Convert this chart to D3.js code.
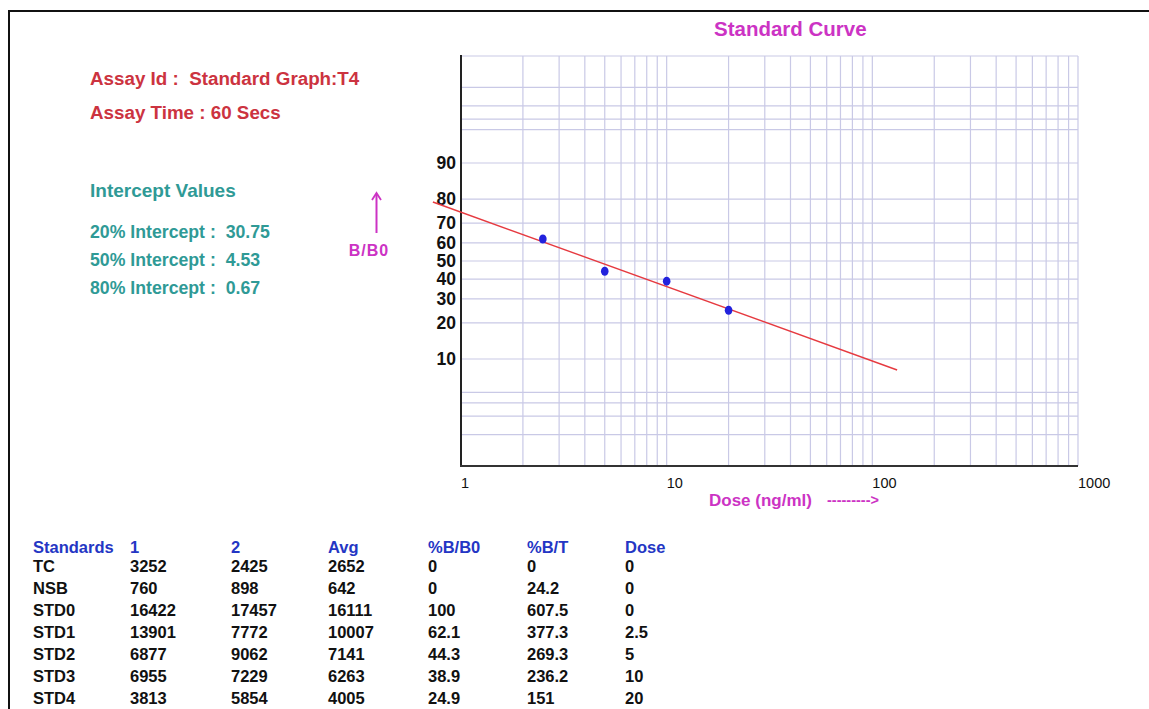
<!DOCTYPE html>
<html>
<head>
<meta charset="utf-8">
<script src="https://cdn.jsdelivr.net/npm/d3@7"></script>
<style>
  html, body { margin: 0; padding: 0; background: #fff; }
  svg { display: block; font-family: "Liberation Sans", Arial, sans-serif; }
</style>
</head>
<body>
<svg id="chart" width="1149" height="709"></svg>
<script>
// ---------- data ----------
const stdDoses = [2.5, 5, 10, 20];
const stdBB0 = [62.1, 44.3, 38.9, 24.9];
const xTickLabels = [1, 10, 100, 1000];
const yTickLabels = [10, 20, 30, 40, 50, 60, 70, 80, 90];
const yGridPercent = [1, 2, 3, 4, 5, 10, 20, 30, 40, 50, 60, 70, 80, 90, 95, 96, 97, 98, 99];
const interceptNames = ["20% Intercept", "50% Intercept", "80% Intercept"];
const interceptValues = [30.75, 4.53, 0.67];
const fitDoseRange = [0.73, 132];
const assayInfo = ["Assay Id :  Standard Graph:T4", "Assay Time : 60 Secs"];
const tableHeaders = ["Standards", "1", "2", "Avg", "%B/B0", "%B/T", "Dose"];
const tableRows = ["TC", "NSB", "STD0", "STD1", "STD2", "STD3", "STD4"];
const colRep1 = [3252, 760, 16422, 13901, 6877, 6955, 3813];
const colRep2 = [2425, 898, 17457, 7772, 9062, 7229, 5854];
const colAvg = [2652, 642, 16111, 10007, 7141, 6263, 4005];
const colBB0 = [0, 0, 100, 62.1, 44.3, 38.9, 24.9];
const colBT = [0, 24.2, 607.5, 377.3, 269.3, 236.2, 151];
const colDose = [0, 0, 0, 2.5, 5, 10, 20];

// ---------- styles ----------
const RED = "#cc3340", TEAL = "#2f9a96", MAG = "#cc33c4", BLUE = "#2436c4";
const GRID = "#c9c9e6";

const svg = d3.select("#chart");

// page border
svg.append("line").attr("x1", 8).attr("x2", 1149).attr("y1", 11).attr("y2", 11)
  .attr("stroke", "#111").attr("stroke-width", 2);
svg.append("line").attr("x1", 9).attr("x2", 9).attr("y1", 10).attr("y2", 709)
  .attr("stroke", "#111").attr("stroke-width", 2);

// ---------- scales ----------
const logit = p => Math.log(p / (1 - p));
const x = d3.scaleLog().domain([1, 1000]).range([461, 1078]);
const yLin = d3.scaleLinear().domain([logit(0.01), logit(0.99)]).range([466, 56]);
const y = pct => yLin(logit(pct / 100));

const plot = svg.append("g");

// grid
plot.selectAll("line.vg").data(x.ticks()).join("line").attr("class", "vg")
  .attr("x1", d => x(d)).attr("x2", d => x(d))
  .attr("y1", y(99)).attr("y2", y(1))
  .attr("stroke", GRID).attr("stroke-width", 1.2);
plot.selectAll("line.hg").data(yGridPercent).join("line").attr("class", "hg")
  .attr("x1", x(1)).attr("x2", x(1000))
  .attr("y1", d => y(d)).attr("y2", d => y(d))
  .attr("stroke", GRID).attr("stroke-width", 1.2);

// axes lines
plot.append("line").attr("x1", x(1)).attr("x2", x(1)).attr("y1", y(99) - 1).attr("y2", y(1) + 1)
  .attr("stroke", "#222").attr("stroke-width", 2);
plot.append("line").attr("x1", x(1) - 1).attr("x2", x(1000)).attr("y1", y(1)).attr("y2", y(1))
  .attr("stroke", "#333").attr("stroke-width", 2);

// y tick labels
plot.selectAll("text.yl").data(yTickLabels).join("text").attr("class", "yl")
  .attr("x", x(1) - 5).attr("y", d => y(d)).attr("dy", "0.36em")
  .attr("text-anchor", "end").attr("font-size", 17.5).attr("font-weight", "bold")
  .attr("fill", "#111").text(d => d);

// x tick labels
plot.selectAll("text.xl").data(xTickLabels).join("text").attr("class", "xl")
  .attr("x", d => x(d)).attr("y", 488)
  .attr("font-size", 14.5).attr("fill", "#111").text(d => d);

// fit line (logit-log linear through the intercepts)
const lg = Math.log10;
const slope = (logit(0.2) - logit(0.8)) / (lg(interceptValues[0]) - lg(interceptValues[2]));
const fitPct = d => 100 / (1 + Math.exp(-slope * (lg(d) - lg(interceptValues[1]))));
const line = d3.line().x(d => x(d)).y(d => y(fitPct(d)));
plot.append("path").datum(fitDoseRange).attr("d", line)
  .attr("fill", "none").attr("stroke", "#e63a40").attr("stroke-width", 1.4);

// points
plot.selectAll("ellipse.pt").data(stdDoses).join("ellipse").attr("class", "pt")
  .attr("cx", d => x(d)).attr("cy", (d, i) => y(stdBB0[i]))
  .attr("rx", 3.8).attr("ry", 4.5).attr("fill", "#2222dd");

// title + axis titles
svg.append("text").attr("x", 714).attr("y", 36).attr("font-size", 20.5).attr("font-weight", "bold")
  .attr("fill", MAG).text("Standard Curve");
svg.append("text").attr("x", 709).attr("y", 506).attr("font-size", 17).attr("font-weight", "bold")
  .attr("fill", MAG).text("Dose (ng/ml)");
svg.append("text").attr("x", 827).attr("y", 505).attr("font-size", 14.5).attr("font-weight", "bold")
  .attr("fill", MAG).text("--------->");

// B/B0 arrow
svg.append("line").attr("x1", 376.5).attr("x2", 376.5).attr("y1", 194).attr("y2", 233)
  .attr("stroke", MAG).attr("stroke-width", 2);
svg.append("path").attr("d", "M372,200 L376.5,193 L381,200")
  .attr("fill", "none").attr("stroke", MAG).attr("stroke-width", 1.8);
svg.append("text").attr("x", 369).attr("y", 256).attr("text-anchor", "middle")
  .attr("font-size", 16).attr("font-weight", "bold").attr("fill", MAG)
  .attr("letter-spacing", 1).text("B/B0");

// assay info
svg.selectAll("text.info").data(assayInfo).join("text").attr("class", "info")
  .attr("x", 90).attr("y", (d, i) => 85 + i * 34)
  .attr("font-size", 18.8).attr("font-weight", "bold").attr("fill", RED)
  .style("white-space", "pre").text(d => d);

// intercepts
svg.append("text").attr("x", 90).attr("y", 197).attr("font-size", 19).attr("font-weight", "bold")
  .attr("fill", TEAL).text("Intercept Values");
svg.selectAll("text.ic").data(interceptNames).join("text").attr("class", "ic")
  .attr("x", 90).attr("y", (d, i) => 238 + i * 28)
  .attr("font-size", 17.7).attr("font-weight", "bold").attr("fill", TEAL)
  .style("white-space", "pre").text((d, i) => d + " :  " + interceptValues[i]);

// table
const colX = [33, 130, 231, 328, 428, 527, 625];
const cols = [tableRows, colRep1, colRep2, colAvg, colBB0, colBT, colDose];
svg.selectAll("text.th").data(tableHeaders).join("text").attr("class", "th")
  .attr("x", (d, i) => colX[i]).attr("y", 553)
  .attr("font-size", 16.5).attr("font-weight", "bold").attr("fill", BLUE).text(d => d);
cols.forEach((col, ci) => {
  svg.selectAll("text.c" + ci).data(col).join("text").attr("class", "c" + ci)
    .attr("x", colX[ci]).attr("y", (d, ri) => 572 + ri * 22)
    .attr("font-size", 16.5).attr("font-weight", "bold").attr("fill", "#111").text(d => d);
});
</script>
</body>
</html>
